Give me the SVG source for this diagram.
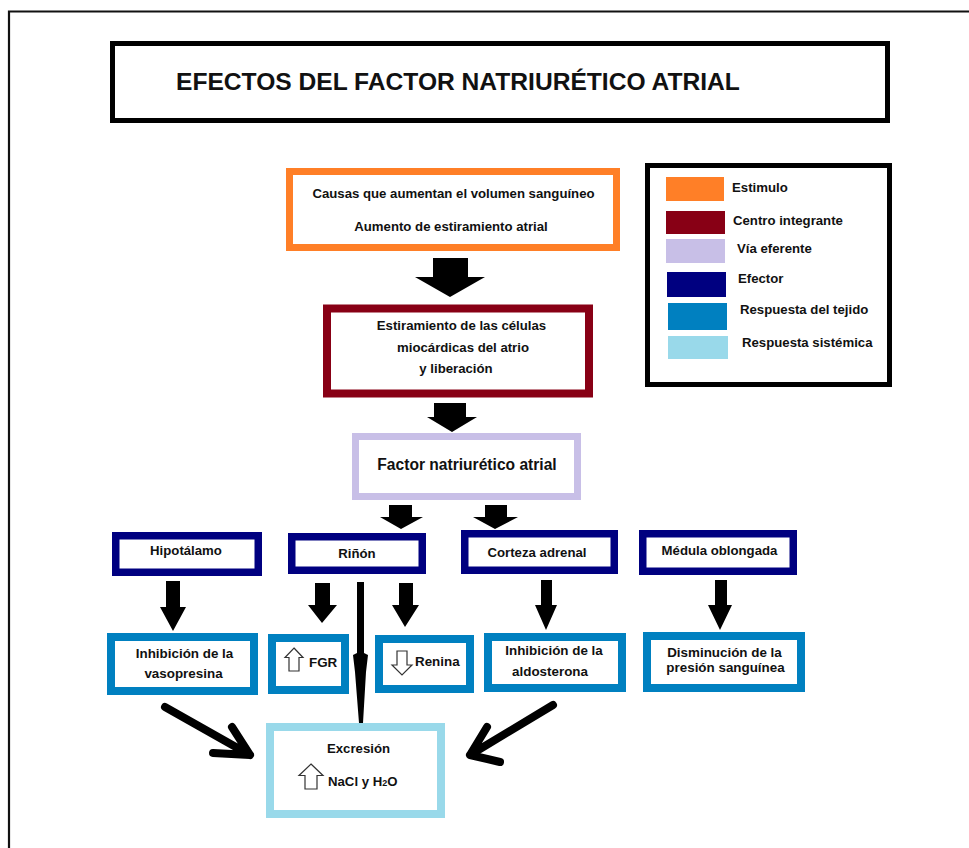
<svg xmlns="http://www.w3.org/2000/svg" width="969" height="848" viewBox="0 0 969 848">
<style>
  text { font-family: "Liberation Sans", Arial, sans-serif; font-weight: bold; fill: #111; }
  .t13 { font-size: 13.2px; }
  .t135 { font-size: 13.4px; }
  .mid { text-anchor: middle; }
  .box { fill: #fff; }
  .stim { stroke: #FF7F27; stroke-width: 7; }
  .cent { stroke: #880015; stroke-width: 8; }
  .via { stroke: #C8BFE7; stroke-width: 7; }
  .eff { stroke: #000080; stroke-width: 7.5; }
  .tis { stroke: #0080C0; stroke-width: 8; }
  .sys { stroke: #99D9EA; stroke-width: 8; }
  .blk { fill: #000; }
  .outl { fill: #fff; stroke: #333; stroke-width: 1.2; }
  .pen { fill: none; stroke: #000; stroke-width: 8; stroke-linecap: round; stroke-linejoin: round; }
</style>
<rect x="0" y="0" width="969" height="848" fill="#fff"/>
<!-- frame -->
<path d="M9 848 V11.5 H969" fill="none" stroke="#111" stroke-width="2.2"/>

<g id="title">
  <rect x="112.5" y="43.5" width="775" height="77" fill="#fff" stroke="#000" stroke-width="5"/>
  <text x="176" y="90" style="font-size:24.6px">EFECTOS DEL FACTOR NATRIURÉTICO ATRIAL</text>
</g>

<g id="legend">
  <rect x="647.5" y="165.5" width="242" height="219" fill="#fff" stroke="#000" stroke-width="5"/>
  <rect x="666" y="177" width="58" height="24" fill="#FF7F27"/>
  <text class="t13" x="732" y="192">Estimulo</text>
  <rect x="666" y="211" width="59" height="23" fill="#880015"/>
  <text class="t13" x="733" y="225">Centro integrante</text>
  <rect x="666" y="239" width="59" height="24" fill="#C8BFE7"/>
  <text class="t13" x="737" y="253">Vía eferente</text>
  <rect x="667" y="272" width="59" height="25" fill="#000080"/>
  <text class="t13" x="738" y="283">Efector</text>
  <rect x="668" y="303" width="59" height="27" fill="#0080C0"/>
  <text class="t13" x="740" y="314">Respuesta del tejido</text>
  <rect x="668" y="336" width="60" height="23" fill="#99D9EA"/>
  <text class="t13" x="742" y="347">Respuesta sistémica</text>
</g>

<g id="estimulo">
  <rect class="box stim" x="289.5" y="171.5" width="327" height="76"/>
  <text class="t13 mid" x="453.5" y="198">Causas que aumentan el volumen sanguíneo</text>
  <text class="t13 mid" x="451" y="231">Aumento de estiramiento atrial</text>
</g>

<g id="centro">
  <rect class="box cent" x="327" y="308.5" width="262" height="85"/>
  <text class="t13 mid" x="461.5" y="330">Estiramiento de las células</text>
  <text class="t13 mid" x="463" y="352">miocárdicas del atrio</text>
  <text class="t13 mid" x="456" y="373">y liberación</text>
</g>

<g id="factor">
  <rect class="box via" x="355.5" y="436.5" width="222" height="60"/>
  <text class="mid" x="467" y="470" style="font-size:15.6px">Factor natriurético atrial</text>
</g>

<g id="hipotalamo">
  <rect class="box eff" x="115.75" y="535.75" width="142.5" height="36.5"/>
  <text class="t13 mid" x="186" y="555">Hipotálamo</text>
</g>
<g id="rinon">
  <rect class="box eff" x="291.75" y="536.75" width="130.5" height="33.5"/>
  <text class="t13 mid" x="357" y="558">Riñón</text>
</g>
<g id="corteza">
  <rect class="box eff" x="464.75" y="533.75" width="149.5" height="36.5"/>
  <text class="t13 mid" x="537" y="557">Corteza adrenal</text>
</g>
<g id="medula">
  <rect class="box eff" x="642.75" y="533.75" width="150.5" height="37.5"/>
  <text class="t13 mid" x="719.5" y="555">Médula oblongada</text>
</g>

<g id="vasopresina">
  <rect class="box tis" x="111" y="637" width="143" height="54"/>
  <text class="t135 mid" x="184.5" y="658">Inhibición de la</text>
  <text class="t135 mid" x="183.5" y="678">vasopresina</text>
</g>
<g id="fgr">
  <rect class="box tis" x="272" y="638" width="73" height="52"/>
  <path class="outl" d="M294 648 L303 657.5 L299 657.5 L299 671 L289 671 L289 657.5 L285 657.5 Z"/>
  <text class="t135" x="309" y="667">FGR</text>
</g>
<g id="renina">
  <rect class="box tis" x="379" y="639" width="91" height="50"/>
  <path class="outl" d="M397 651 L407 651 L407 665 L412 665 L402 675 L392 665 L397 665 Z"/>
  <text class="t135" x="415" y="666">Renina</text>
</g>
<g id="aldosterona">
  <rect class="box tis" x="488" y="637" width="134" height="51"/>
  <text class="t135 mid" x="554" y="655">Inhibición de la</text>
  <text class="t135 mid" x="550" y="676">aldosterona</text>
</g>
<g id="disminucion">
  <rect class="box tis" x="647" y="636" width="154" height="52"/>
  <text class="t135 mid" x="724.5" y="657">Disminución de la</text>
  <text class="t135 mid" x="725.5" y="672">presión sanguínea</text>
</g>

<g id="excrecion">
  <rect class="box sys" x="270" y="727" width="171" height="87"/>
  <text class="t13 mid" x="358.5" y="753">Excresión</text>
  <path class="outl" d="M311 764 L323 775.5 L317 775.5 L317 789 L305 789 L305 775.5 L299 775.5 Z"/>
  <text class="t13" x="328" y="786">NaCl y H<tspan style="font-size:9px">2</tspan>O</text>
</g>

<g id="connectors">
  <polygon class="blk" points="433,258 468,258 468,277 485,277 450,297 415,277 433,277"/>
  <polygon class="blk" points="434,403 466,403 466,417 477,417 452,432 427,417 434,417"/>
  <polygon class="blk" points="389,505 412,505 412,517 423,517 401,529 380,517 389,517"/>
  <polygon class="blk" points="485,505 507,505 507,517 518,517 495,529 473,517 485,517"/>
  <polygon class="blk" points="166,581 180,581 180,607 186,607 173,631 160,607 166,607"/>
  <polygon class="blk" points="315,583 330,583 330,605 337,605 322,623 308,605 315,605"/>
  <polygon class="blk" points="399,583 413,583 413,605 419,605 405,627 392,605 399,605"/>
  <polygon class="blk" points="541,580 552,580 552,605 557,605 546,630 535,605 541,605"/>
  <polygon class="blk" points="715,580 727,580 727,605 732,605 720,630 708,605 715,605"/>
  <polygon class="blk" points="357,582 364,582 364,653 368,655 366,672 363,723 359,723 355,672 353,655 357,653"/>
  <path class="pen" d="M165 707 L250 755 M232 727 L250 755 L213 753"/>
  <path class="pen" d="M553 705 L470 755 M487 727 L470 755 L500 762"/>
</g>
</svg>
